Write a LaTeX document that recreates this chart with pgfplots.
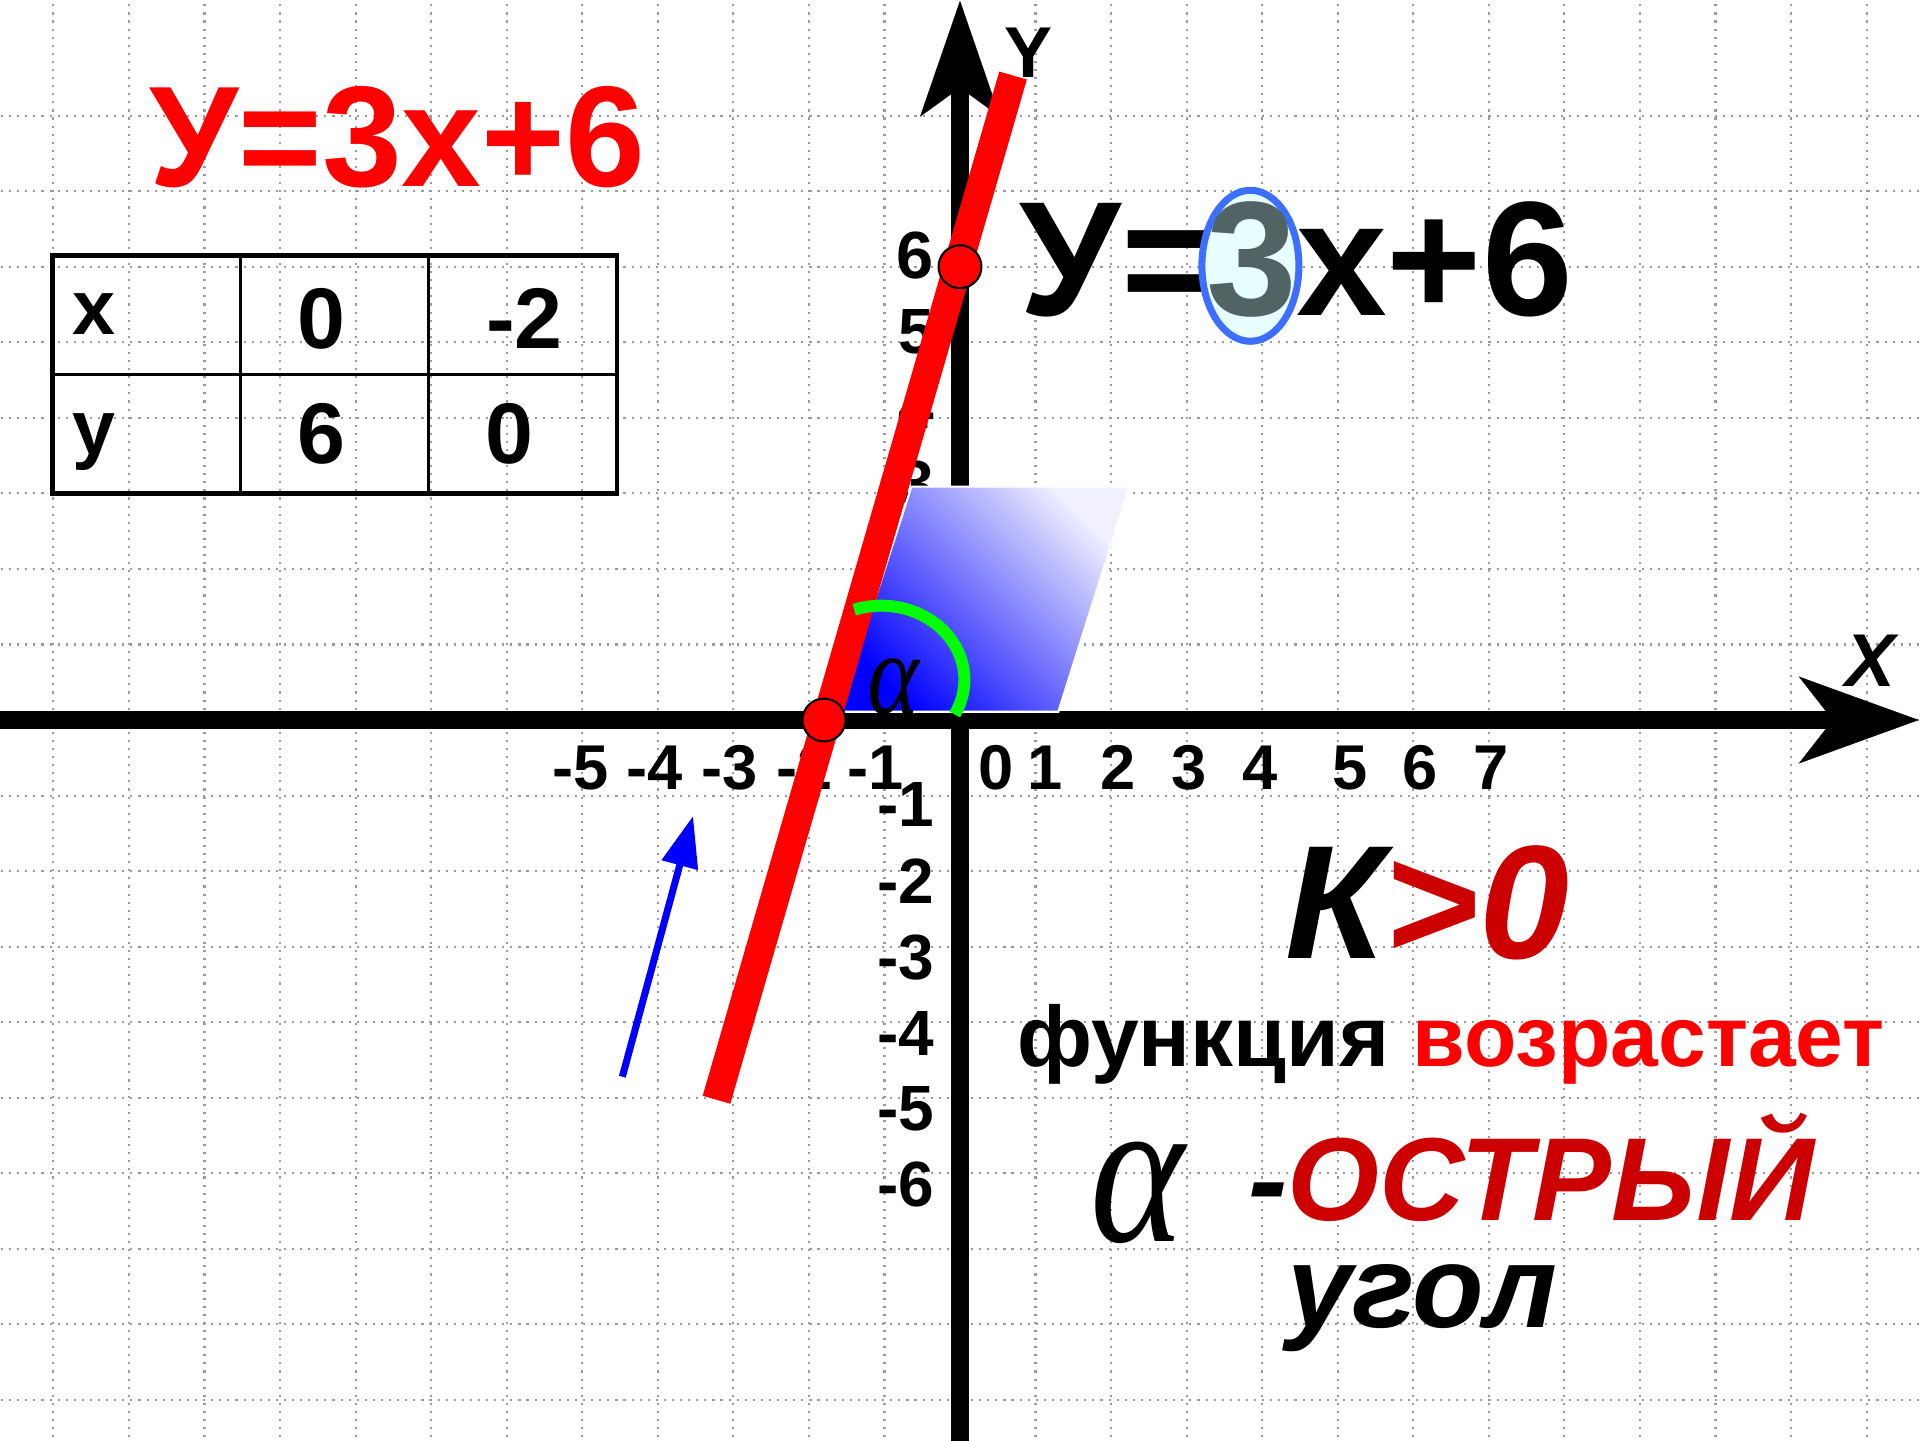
\documentclass[border=0pt]{standalone}
\usepackage{pgfplots}
\pgfplotsset{compat=1.18}
\usepackage{fontspec}
\setmainfont{Liberation Sans}
\newfontfamily\serif{Liberation Serif}
\usetikzlibrary{arrows.meta}
\definecolor{lgreen}{RGB}{0,255,0}
\definecolor{dred}{RGB}{204,0,0}
\definecolor{slate}{RGB}{80,100,100}
\definecolor{ecyan}{RGB}{232,255,255}
\definecolor{eblue}{RGB}{60,110,255}
\definecolor{gridgray}{RGB}{155,155,155}
\definecolor{pblue}{RGB}{0,0,255}
\definecolor{pwhite}{RGB}{240,240,255}
\newcommand{\fs}[1]{\fontsize{#1}{#1}\selectfont}

\begin{document}
\begin{tikzpicture}
\begin{axis}[
  x=0.7555cm, y=0.7555cm,
  xmin=-12.7068, xmax=12.7068, ymin=-9.5301, ymax=9.5301,
  hide axis, scale only axis, clip=true,
]
% dotted grid
\pgfplotsinvokeforeach{-12,...,12}{
  \draw[gridgray, line width=0.6pt, dash pattern=on 0.6pt off 1.7pt] (axis cs:#1,-9.6) -- (axis cs:#1,9.6);
}
\pgfplotsinvokeforeach{-9,...,8}{
  \draw[gridgray, line width=0.6pt, dash pattern=on 0.6pt off 1.7pt] (axis cs:-12.8,#1) -- (axis cs:12.8,#1);
}
% tick labels (under the line)
\foreach \v/\lab in {-5.017/-5,-4.041/-4,-3.044/-3,-2.052/-2,-1.118/-1,0.476/0,1.132/1,2.088/2,3.031/3,3.971/4,5.159/5,6.089/6,7.026/7}{
  \edef\tmp{\noexpand\node[anchor=base, inner sep=0pt, font=\noexpand\bfseries\noexpand\fs{18pt}] at (axis cs:\v,-0.917) {\lab};}
  \tmp
}
\node[anchor=base east, inner sep=0pt, font=\bfseries\fs{19pt}] at (axis cs:-0.335,5.85) {6};
\foreach \v/\lab in {4.853/5,3.86/4,2.84/3,-1.412/-1,-2.427/-2,-3.432/-3,-4.435/-4,-5.427/-5,-6.433/-6}{
  \edef\tmp{\noexpand\node[anchor=base east, inner sep=0pt, font=\noexpand\bfseries\noexpand\fs{18.2pt}] at (axis cs:-0.33,\v) {\lab};}
  \tmp
}
% axis labels
\node[anchor=base, inner sep=0pt, font=\bfseries\fs{20.5pt}] at (axis cs:0.913,8.51) {Y};
\node[anchor=base, inner sep=0pt, font=\bfseries\itshape\fs{21.3pt}] at (axis cs:12.05,0.44) {X};
% axes
\addplot[black, line width=5.1pt, -{Stealth[length=12mm, width=8.7mm, inset=3.4mm, line width=0.1pt]}] coordinates {(-12.8,0) (12.69,0)};
\addplot[black, line width=5.1pt, -{Stealth[length=11.6mm, width=8mm, inset=2.9mm, line width=0.1pt]}] coordinates {(0,-9.7) (0,9.52)};
% shaded parallelogram
\addplot[draw=white, line width=0.6pt, top color=pwhite, bottom color=pblue, shading angle=-45] coordinates {(-1.604,0.11) (1.302,0.11) (2.245,3.09) (-0.643,3.09)} -- cycle;
% points and line
\addplot[only marks, mark=*, mark size=6.1pt, mark options={fill=red, draw=black, line width=0.6pt}] coordinates {(-1.80,0) (0,6.0)};
\addplot[red, line width=8.17pt] coordinates {(-3.223,-5.026) (0.702,8.53)};
% angle arc and alpha
\draw[lgreen, line width=3.4pt] (axis cs:-1.40,1.46) arc[start angle=109, end angle=-28, x radius=0.831cm, y radius=0.740cm];
\node[anchor=base, inner sep=0pt] at (axis cs:-0.887,0.089) {\serif\itshape\fs{33pt}\scalebox{0.85}[1]{α}};
% blue arrow
\addplot[pblue, line width=2pt, -{Triangle[length=5.1mm, width=3.6mm]}] coordinates {(-4.469,-4.721) (-3.533,-1.270)};
% title
\node[anchor=base west, inner sep=0pt, font=\bfseries\fs{40.8pt}, text=red] at (axis cs:-10.74,7.055) {У=3х+6};
% table
\draw[black, line width=1.4pt] (axis cs:-12.013,3.002) rectangle (axis cs:-4.54,6.144);
\draw[black, line width=0.85pt] (axis cs:-12.013,4.571) -- (axis cs:-4.54,4.571);
\draw[black, line width=0.85pt] (axis cs:-9.519,3.002) -- (axis cs:-9.519,6.144);
\draw[black, line width=0.85pt] (axis cs:-7.031,3.002) -- (axis cs:-7.031,6.144);
\node[anchor=base west, inner sep=0pt, font=\bfseries\fs{22pt}] at (axis cs:-11.76,5.096) {x};
\node[anchor=base west, inner sep=0pt, font=\bfseries\fs{22pt}] at (axis cs:-11.76,3.51) {y};
\node[anchor=base, inner sep=0pt, font=\bfseries\fs{24.5pt}] at (axis cs:-8.45,4.92) {0};
\node[anchor=base, inner sep=0pt, font=\bfseries\fs{24.5pt}] at (axis cs:-5.764,4.92) {-2};
\node[anchor=base, inner sep=0pt, font=\bfseries\fs{24.5pt}] at (axis cs:-8.45,3.40) {6};
\node[anchor=base, inner sep=0pt, font=\bfseries\fs{24.5pt}] at (axis cs:-5.96,3.40) {0};
% black equation with circled 3
\node[anchor=base west, inner sep=0pt, font=\bfseries\fs{46.4pt}] at (axis cs:0.78,5.35) {У=};
\draw[eblue, fill=ecyan, line width=2pt] (axis cs:3.844,6.012) ellipse[x radius=0.485cm, y radius=0.755cm];
\node[anchor=base, inner sep=0pt, font=\bfseries\fs{46.4pt}, text=slate] at (axis cs:3.862,5.35) {3};
\node[anchor=base west, inner sep=0pt, font=\bfseries\fs{46.4pt}] at (axis cs:4.44,5.35) {х+6};
% K>0
\node[anchor=base west, inner sep=0pt, font=\bfseries\itshape\fs{46pt}] at (axis cs:4.30,-3.154) {К\textcolor{dred}{>0}};
\node[anchor=base west, inner sep=0pt, font=\bfseries\fs{24.4pt}] at (axis cs:0.75,-4.59) {функция \textcolor{red}{возрастает}};
\node[anchor=base west, inner sep=0pt] at (axis cs:1.72,-6.905) {\serif\itshape\fs{60pt}\scalebox{0.85}[1]{α}};
\node[anchor=base west, inner sep=0pt, font=\bfseries\itshape\fs{33.6pt}] at (axis cs:3.81,-6.618) {-\textcolor{dred}{ОСТРЫЙ}};
\node[anchor=base west, inner sep=0pt, font=\bfseries\itshape\fs{33.3pt}] at (axis cs:4.33,-8.04) {угол};
\end{axis}
\end{tikzpicture}
\end{document}
